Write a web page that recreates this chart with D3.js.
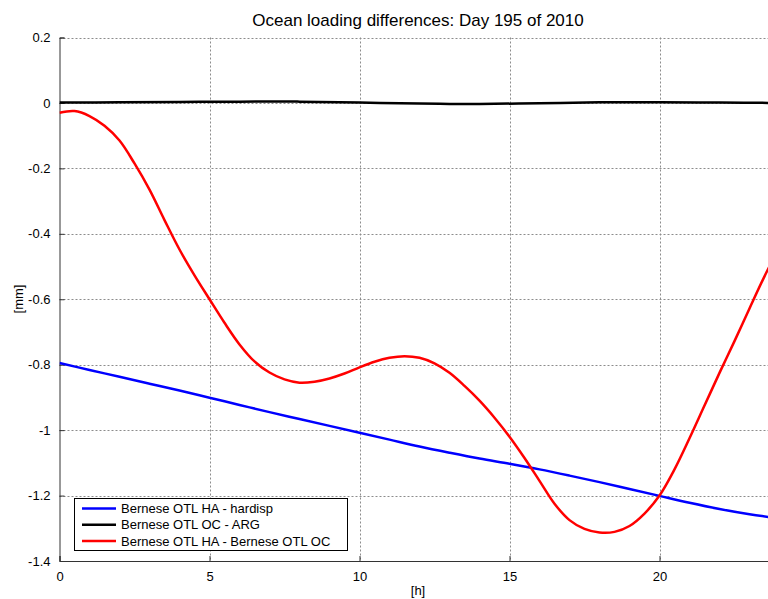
<!DOCTYPE html>
<html><head><meta charset="utf-8">
<script src="https://cdn.jsdelivr.net/npm/d3@7"></script>
<style>body{margin:0;background:#fff}svg{display:block}text{font-family:"Liberation Sans",Arial,Helvetica,sans-serif}</style>
</head><body><svg id="c" width="768" height="599"></svg>
<script>
const title = "Ocean loading differences: Day 195 of 2010";
const xLabel = "[h]";
const yLabel = "[mm]";
const xTicks = [0, 5, 10, 15, 20];
const yTicks = [0.2, 0, -0.2, -0.4, -0.6, -0.8, -1, -1.2, -1.4];
const seriesNames = ["Bernese OTL HA - hardisp", "Bernese OTL OC - ARG", "Bernese OTL HA - Bernese OTL OC"];
const seriesColors = ["#0000ff", "#000000", "#ff0000"];

const hoursBlue = [0,1,2,3,4,5,6,7,8,9,10,11,12,13,14,15,16,17,18,19,20,21,22,23,24];
const valuesBlue = [-0.795,-0.816,-0.837,-0.858,-0.879,-0.901,-0.923,-0.945,-0.966,-0.987,-1.008,-1.029,-1.050,-1.069,-1.087,-1.103,-1.120,-1.139,-1.159,-1.180,-1.201,-1.222,-1.241,-1.257,-1.270];

const hoursBlack = [0,2,4,6,8,10,12,13,14,16,18,19,20,22,24];
const valuesBlack = [0.001,0.002,0.003,0.004,0.004,0.001,-0.002,-0.003,-0.003,-0.001,0.002,0.002,0.002,0.001,0.000];

const hoursRed = [0,0.5,1,1.5,2,2.5,3,3.5,4,4.5,5,5.5,6,6.5,7,7.5,8,8.5,9,9.5,10,10.5,11,11.5,12,12.5,13,13.5,14,14.5,15,15.5,16,16.5,17,17.5,18,18.5,19,19.5,20,20.5,21,21.5,22,22.5,23,23.5,24];
const valuesRed = [-0.030,-0.025,-0.040,-0.070,-0.115,-0.185,-0.265,-0.358,-0.448,-0.527,-0.600,-0.672,-0.738,-0.790,-0.824,-0.845,-0.855,-0.852,-0.842,-0.827,-0.808,-0.791,-0.779,-0.774,-0.779,-0.796,-0.825,-0.865,-0.910,-0.962,-1.020,-1.085,-1.155,-1.225,-1.275,-1.302,-1.313,-1.311,-1.293,-1.255,-1.200,-1.120,-1.025,-0.925,-0.825,-0.728,-0.628,-0.530,-0.440];

const svg = d3.select("#c");
const L = 59.5, R = 779.5, T = 37.5, B = 561;
const x = d3.scaleLinear().domain([0, 24]).range([L, R]);
const y = d3.scaleLinear().domain([-1.4, 0.2]).range([B, T]);

const defs = svg.append("defs");
defs.append("clipPath").attr("id","clip").append("rect").attr("x",L).attr("y",T-3).attr("width",R-L).attr("height",B-T+6);

// grid
const grid = svg.append("g").attr("stroke","#8c8c8c").attr("stroke-width",1).attr("stroke-dasharray","2,2").attr("fill","none");
xTicks.filter(d=>d>0).forEach(d=>{
  grid.append("line").attr("x1",Math.round(x(d))+0.5).attr("x2",Math.round(x(d))+0.5).attr("y1",T).attr("y2",B);
});
yTicks.filter(d=>d>-1.4).forEach(d=>{
  grid.append("line").attr("x1",L).attr("x2",R).attr("y1",Math.round(y(d))+0.5).attr("y2",Math.round(y(d))+0.5);
});

// axes
const yAxis = d3.axisLeft(y).tickValues(yTicks).tickSize(-5).tickPadding(9).tickFormat(d=>d===0?"0":String(d));
const gy = svg.append("g").attr("transform",`translate(${L},0)`).call(yAxis);
const xAxis = d3.axisBottom(x).tickValues(xTicks).tickSize(-5).tickPadding(9).tickFormat(d3.format("d"));
const gx = svg.append("g").attr("transform",`translate(0,${B})`).call(xAxis);
[gx, gy].forEach(g=>{
  g.select(".domain").attr("stroke","#333");
  g.selectAll(".tick line").attr("stroke","#333");
  g.selectAll("text").attr("fill","#000").attr("font-size",13).attr("font-family",'"Liberation Sans",Arial,sans-serif');
});
gx.selectAll(".tick text").attr("dy","0.85em");

// lines
const plot = svg.append("g").attr("clip-path","url(#clip)");
const line = d3.line().x(d=>x(d[0])).y(d=>y(d[1])).curve(d3.curveCatmullRom.alpha(0.5));
const datasets = [
  d3.zip(hoursBlue, valuesBlue),
  d3.zip(hoursBlack, valuesBlack),
  d3.zip(hoursRed, valuesRed)
];
datasets.forEach((ds,i)=>{
  plot.append("path").datum(ds).attr("d", line).attr("fill","none").attr("stroke",seriesColors[i]).attr("stroke-width",2.5).attr("stroke-linejoin","round");
});

// title and labels
svg.append("text").attr("x",418).attr("y",26).attr("text-anchor","middle").attr("font-size",17).text(title);
svg.append("text").attr("x",418).attr("y",595).attr("text-anchor","middle").attr("font-size",13).text(xLabel);
svg.append("text").attr("transform","translate(23,299) rotate(-90)").attr("text-anchor","middle").attr("font-size",13).text(yLabel);

// legend
const lg = svg.append("g");
lg.append("rect").attr("x",74.5).attr("y",498.5).attr("width",273).attr("height",52).attr("fill","#fff").attr("stroke","#000").attr("stroke-width",1);
seriesNames.forEach((n,i)=>{
  const cy = 508.5 + i*16.3;
  lg.append("line").attr("x1",82).attr("x2",116).attr("y1",cy).attr("y2",cy).attr("stroke",seriesColors[i]).attr("stroke-width",2.5);
  lg.append("text").attr("x",121).attr("y",cy+4.5).attr("font-size",13).text(n);
});
</script></body></html>
